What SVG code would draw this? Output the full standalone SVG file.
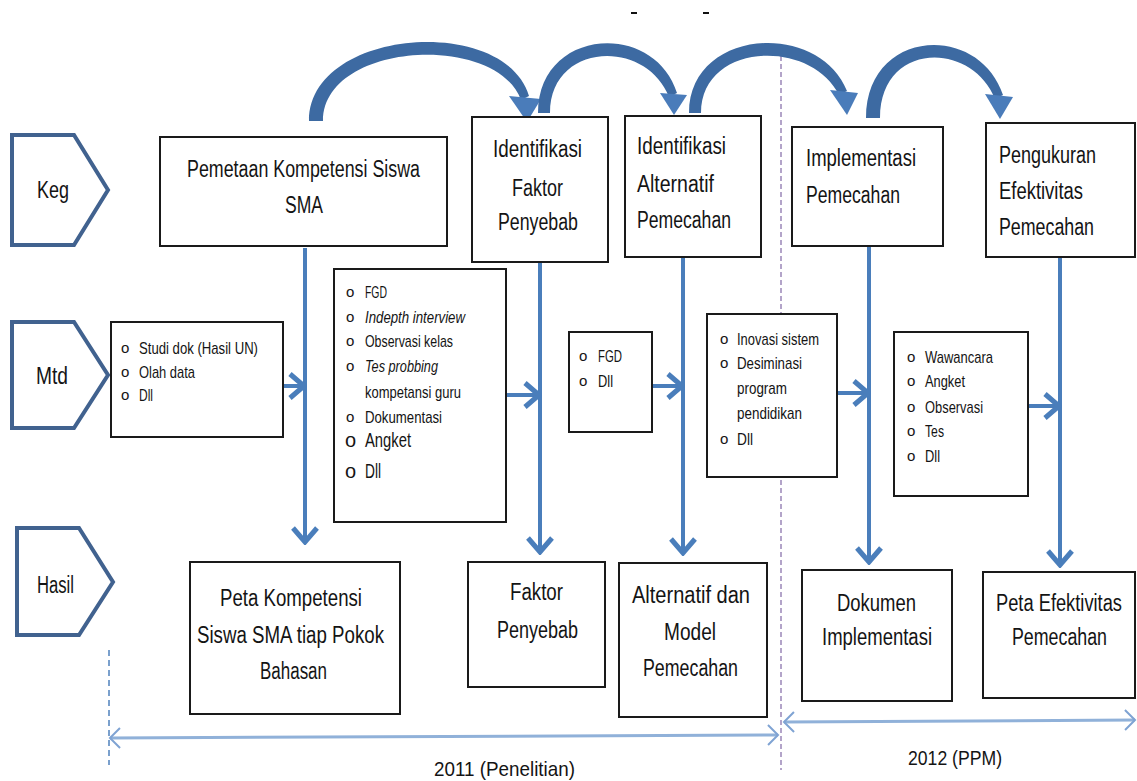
<svg xmlns="http://www.w3.org/2000/svg" width="1137" height="781" viewBox="0 0 1137 781">
<style>
.box{fill:#fff;stroke:#1a1a1a;stroke-width:2}
.pent{fill:#fff;stroke:#41628f;stroke-width:4;stroke-linejoin:miter}
.t{font-family:"Liberation Sans",Arial,sans-serif;font-size:23px;fill:#141414}
.s{font-family:"Liberation Sans",Arial,sans-serif;font-size:17px;fill:#141414}
.m{font-family:"Liberation Sans",Arial,sans-serif;font-size:20px;fill:#141414}
.b{font-family:"Liberation Sans",Arial,sans-serif;font-size:15px;fill:#141414}
.i{font-style:italic}
.conn{stroke:#4a7ebb;stroke-width:4;fill:none;marker-end:url(#ah)}
.arc{fill:#3d6aa2}
.head{fill:#4a7cba}
.tl{stroke:#90b1d9;stroke-width:3;fill:none;marker-start:url(#tlh);marker-end:url(#tlh)}
</style>
<defs>
<marker id="ah" markerUnits="userSpaceOnUse" viewBox="0 0 20 30" refX="18" refY="15" markerWidth="20" markerHeight="30" orient="auto">
<path d="M3,3 L17,15 L3,27" fill="none" stroke="#4a7ebb" stroke-width="5"/>
</marker>
<marker id="tlh" markerUnits="userSpaceOnUse" viewBox="0 0 14 24" refX="12" refY="12" markerWidth="14" markerHeight="24" orient="auto-start-reverse">
<path d="M2,2 L12,12 L2,22" fill="none" stroke="#7fa3d3" stroke-width="2"/>
</marker>
</defs>
<rect width="1137" height="781" fill="#fff"/>

<line x1="631" y1="13" x2="637" y2="13" stroke="#111" stroke-width="2"/>
<line x1="703" y1="13" x2="709" y2="13" stroke="#111" stroke-width="2"/>

<line x1="781" y1="48" x2="781" y2="770" stroke="#9b86b8" stroke-width="1.5" stroke-dasharray="5 3"/>
<line x1="109" y1="650" x2="109" y2="765" stroke="#4f81bd" stroke-width="1.5" stroke-dasharray="6 4"/>

<g id="connectors">
<path class="arc" d="M309,121 C309,28 505,14 529,96 L521,100 C496,32 323,42 323,121 Z"/>
<polygon class="head" points="509,96 541,99 527,122"/>
<path class="arc" d="M538,113 C538,28 654,20 677,93 L669,97 C646,38 550,42 550,113 Z"/>
<polygon class="head" points="660,93 687,95 674,115"/>
<path class="arc" d="M689,113 C689,28 819,20 847,91 L839,95 C811,38 701,42 701,113 Z"/>
<polygon class="head" points="830,90 858,93 847,115"/>
<path class="arc" d="M866,118 C866,28 979,22 1003,95 L995,99 C971,40 880,42 880,118 Z"/>
<polygon class="head" points="985,94 1013,97 1000,119"/>

<line class="conn" x1="305" y1="248" x2="305" y2="543"/>
<line class="conn" x1="540" y1="263" x2="540" y2="553"/>
<line class="conn" x1="683" y1="258" x2="683" y2="554"/>
<line class="conn" x1="869" y1="247" x2="869" y2="563"/>
<line class="conn" x1="1060" y1="258" x2="1060" y2="566"/>

<line class="conn" x1="283" y1="386" x2="305" y2="386"/>
<line class="conn" x1="507" y1="395" x2="540" y2="395"/>
<line class="conn" x1="653" y1="386" x2="683" y2="386"/>
<line class="conn" x1="838" y1="393" x2="869" y2="393"/>
<line class="conn" x1="1029" y1="406" x2="1060" y2="406"/>

<line class="tl" x1="110" y1="738" x2="778" y2="735"/>
<line class="tl" x1="784" y1="722" x2="1135" y2="720"/>
</g>

<g id="keg">
<polygon class="pent" points="12,135 74,135 108,190 74,245 12,245"/>
<text class="t" x="37" y="198" textLength="32" lengthAdjust="spacingAndGlyphs">Keg</text>
</g>
<g id="mtd">
<polygon class="pent" points="12,322 74,322 108,375 74,428 12,428"/>
<text class="t" x="36" y="384" textLength="32" lengthAdjust="spacingAndGlyphs">Mtd</text>
</g>
<g id="hasil">
<polygon class="pent" points="17,528 79,528 113,582 79,635 17,635"/>
<text class="t" x="37" y="593" textLength="37" lengthAdjust="spacingAndGlyphs">Hasil</text>
</g>

<g id="keg1">
<rect class="box" x="160" y="137" width="287" height="109"/>
<text class="t" x="187" y="177" textLength="233" lengthAdjust="spacingAndGlyphs">Pemetaan Kompetensi Siswa</text>
<text class="t" x="285" y="213" textLength="38" lengthAdjust="spacingAndGlyphs">SMA</text>
</g>
<g id="keg2">
<rect class="box" x="472" y="117" width="136" height="145"/>
<text class="t" x="493" y="157" textLength="89" lengthAdjust="spacingAndGlyphs">Identifikasi</text>
<text class="t" x="512" y="196" textLength="51" lengthAdjust="spacingAndGlyphs">Faktor</text>
<text class="t" x="498" y="230" textLength="80" lengthAdjust="spacingAndGlyphs">Penyebab</text>
</g>
<g id="keg3">
<rect class="box" x="625" y="116" width="136" height="141"/>
<text class="t" x="637" y="154" textLength="89" lengthAdjust="spacingAndGlyphs">Identifikasi</text>
<text class="t" x="637" y="192" textLength="77" lengthAdjust="spacingAndGlyphs">Alternatif</text>
<text class="t" x="637" y="228" textLength="94" lengthAdjust="spacingAndGlyphs">Pemecahan</text>
</g>
<g id="keg4">
<rect class="box" x="792" y="127" width="151" height="119"/>
<text class="t" x="806" y="166" textLength="110" lengthAdjust="spacingAndGlyphs">Implementasi</text>
<text class="t" x="806" y="203" textLength="94" lengthAdjust="spacingAndGlyphs">Pemecahan</text>
</g>
<g id="keg5">
<rect class="box" x="986" y="123" width="149" height="134"/>
<text class="t" x="999" y="163" textLength="97" lengthAdjust="spacingAndGlyphs">Pengukuran</text>
<text class="t" x="999" y="199" textLength="84" lengthAdjust="spacingAndGlyphs">Efektivitas</text>
<text class="t" x="999" y="235" textLength="95" lengthAdjust="spacingAndGlyphs">Pemecahan</text>
</g>

<g id="mtd1">
<rect class="box" x="111" y="322" width="172" height="115"/>
<text class="b" x="121" y="353">o</text>
<text class="b" x="121" y="377">o</text>
<text class="b" x="121" y="400">o</text>
<text class="s" x="139" y="354" textLength="119" lengthAdjust="spacingAndGlyphs">Studi dok  (Hasil UN)</text>
<text class="s" x="139" y="378" textLength="56" lengthAdjust="spacingAndGlyphs">Olah data</text>
<text class="s" x="139" y="401" textLength="14" lengthAdjust="spacingAndGlyphs">Dll</text>
</g>
<g id="mtd2">
<rect class="box" x="334" y="269" width="172" height="253"/>
<text class="b" x="346" y="297">o</text>
<text class="b" x="346" y="322">o</text>
<text class="b" x="346" y="346">o</text>
<text class="b" x="346" y="371">o</text>
<text class="b" x="346" y="422">o</text>
<text class="m" x="345" y="447">o</text>
<text class="m" x="345" y="478">o</text>
<text class="s" x="365" y="298" textLength="22" lengthAdjust="spacingAndGlyphs">FGD</text>
<text class="s i" x="365" y="323" textLength="100" lengthAdjust="spacingAndGlyphs">Indepth interview</text>
<text class="s" x="365" y="347" textLength="88" lengthAdjust="spacingAndGlyphs">Observasi kelas</text>
<text class="s i" x="365" y="372" textLength="73" lengthAdjust="spacingAndGlyphs">Tes probbing</text>
<text class="s" x="365" y="398" textLength="96" lengthAdjust="spacingAndGlyphs">kompetansi guru</text>
<text class="s" x="365" y="423" textLength="77" lengthAdjust="spacingAndGlyphs">Dokumentasi</text>
<text class="m" x="365" y="447" textLength="46" lengthAdjust="spacingAndGlyphs">Angket</text>
<text class="m" x="365" y="478" textLength="16" lengthAdjust="spacingAndGlyphs">Dll</text>
</g>
<g id="mtd3">
<rect class="box" x="569" y="332" width="83" height="100"/>
<text class="b" x="579" y="361">o</text>
<text class="b" x="579" y="386">o</text>
<text class="s" x="598" y="362" textLength="24" lengthAdjust="spacingAndGlyphs">FGD</text>
<text class="s" x="598" y="387" textLength="15" lengthAdjust="spacingAndGlyphs">Dll</text>
</g>
<g id="mtd4">
<rect class="box" x="707" y="314" width="130" height="163"/>
<text class="b" x="720" y="344">o</text>
<text class="b" x="720" y="368">o</text>
<text class="b" x="720" y="444">o</text>
<text class="s" x="737" y="345" textLength="82" lengthAdjust="spacingAndGlyphs">Inovasi sistem</text>
<text class="s" x="737" y="369" textLength="65" lengthAdjust="spacingAndGlyphs">Desiminasi</text>
<text class="s" x="737" y="394" textLength="50" lengthAdjust="spacingAndGlyphs">program</text>
<text class="s" x="737" y="419" textLength="65" lengthAdjust="spacingAndGlyphs">pendidikan</text>
<text class="s" x="737" y="445" textLength="16" lengthAdjust="spacingAndGlyphs">Dll</text>
</g>
<g id="mtd5">
<rect class="box" x="894" y="332" width="134" height="164"/>
<text class="b" x="907" y="362">o</text>
<text class="b" x="907" y="386">o</text>
<text class="b" x="907" y="412">o</text>
<text class="b" x="907" y="436">o</text>
<text class="b" x="907" y="461">o</text>
<text class="s" x="925" y="363" textLength="68" lengthAdjust="spacingAndGlyphs">Wawancara</text>
<text class="s" x="925" y="387" textLength="40" lengthAdjust="spacingAndGlyphs">Angket</text>
<text class="s" x="925" y="413" textLength="58" lengthAdjust="spacingAndGlyphs">Observasi</text>
<text class="s" x="925" y="437" textLength="19" lengthAdjust="spacingAndGlyphs">Tes</text>
<text class="s" x="925" y="462" textLength="15" lengthAdjust="spacingAndGlyphs">Dll</text>
</g>

<g id="has1">
<rect class="box" x="190" y="562" width="210" height="152"/>
<text class="t" x="220" y="606" textLength="142" lengthAdjust="spacingAndGlyphs">Peta Kompetensi</text>
<text class="t" x="197" y="643" textLength="187" lengthAdjust="spacingAndGlyphs">Siswa SMA tiap Pokok</text>
<text class="t" x="260" y="679" textLength="67" lengthAdjust="spacingAndGlyphs">Bahasan</text>
</g>
<g id="has2">
<rect class="box" x="468" y="562" width="137" height="125"/>
<text class="t" x="510" y="600" textLength="53" lengthAdjust="spacingAndGlyphs">Faktor</text>
<text class="t" x="497" y="638" textLength="81" lengthAdjust="spacingAndGlyphs">Penyebab</text>
</g>
<g id="has3">
<rect class="box" x="619" y="563" width="148" height="154"/>
<text class="t" x="632" y="603" textLength="118" lengthAdjust="spacingAndGlyphs">Alternatif  dan</text>
<text class="t" x="664" y="640" textLength="52" lengthAdjust="spacingAndGlyphs">Model</text>
<text class="t" x="643" y="676" textLength="95" lengthAdjust="spacingAndGlyphs">Pemecahan</text>
</g>
<g id="has4">
<rect class="box" x="802" y="570" width="150" height="131"/>
<text class="t" x="837" y="611" textLength="79" lengthAdjust="spacingAndGlyphs">Dokumen</text>
<text class="t" x="822" y="645" textLength="110" lengthAdjust="spacingAndGlyphs">Implementasi</text>
</g>
<g id="has5">
<rect class="box" x="983" y="572" width="152" height="126"/>
<text class="t" x="996" y="611" textLength="126" lengthAdjust="spacingAndGlyphs">Peta Efektivitas</text>
<text class="t" x="1012" y="645" textLength="95" lengthAdjust="spacingAndGlyphs">Pemecahan</text>
</g>

<g id="periods">
<text class="t" x="434" y="776" textLength="141" lengthAdjust="spacingAndGlyphs" style="font-size:21px">2011 (Penelitian)</text>
<text class="t" x="908" y="765" textLength="94" lengthAdjust="spacingAndGlyphs" style="font-size:21px">2012 (PPM)</text>
</g>
</svg>
